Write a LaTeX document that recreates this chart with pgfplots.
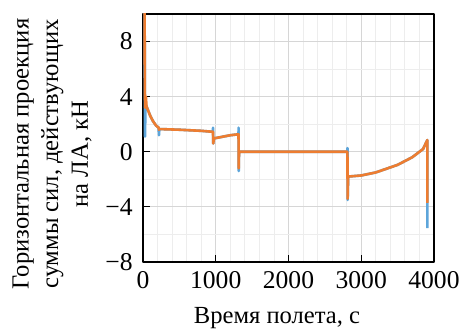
\documentclass[border=0pt]{standalone}
\usepackage{fontspec}
\setmainfont{Liberation Serif}
\usepackage{pgfplots}
\pgfplotsset{compat=1.18}
\definecolor{lineorange}{HTML}{ED7D31}
\definecolor{lineblue}{HTML}{5DA5DA}
\definecolor{majgrid}{HTML}{D6D6D6}
\definecolor{mingrid}{HTML}{EDEDED}
\newcommand{\tl}[1]{\mbox{\fontsize{12.8}{14}\selectfont #1}}
\begin{document}
\fontsize{12}{14.5}\selectfont
\begin{tikzpicture}
\path[use as bounding box] (-71.5pt,-34.5pt) rectangle (158.5pt,131pt);
\begin{axis}[
  scale only axis,
  width=145.5pt, height=124pt,
  xmin=0, xmax=4000, ymin=-8, ymax=10,
  xtick={0,1000,2000,3000,4000},
  xticklabels={\tl{0},\tl{1000},\tl{2000},\tl{3000},\tl{4000}},
  ytick={-8,-4,0,4,8},
  yticklabels={\tl{−8},\tl{−4},\tl{0},\tl{4},\tl{8}},
  minor x tick num=4,
  minor y tick num=1,
  grid=both,
  major grid style={majgrid, line width=0.5pt},
  minor grid style={mingrid, line width=0.4pt},
  tick align=inside,
  xtick pos=bottom, ytick pos=left,
  major tick length=3.5pt,
  minor tick length=0pt,
  tick style={black, line width=0.6pt},
  axis line style={black, line width=0.6pt},
  xticklabel style={yshift=-0.5pt},
  yticklabel style={xshift=-1pt},
  line join=round,
]
% spikes of the raw signal
\addplot[lineblue, line width=1.3pt] coordinates {
  (22,10.5) (27,1.1) (35,3.5) (70,3.0) (100,2.6) (140,2.2) (180,1.9)
  (215,1.75) (219,1.2) (225,1.65) (500,1.6) (800,1.52) (962,1.45)
  (963,1.75) (965,0.6) (975,0.97) (1200,1.2) (1313,1.27) (1314,1.75)
  (1316,-1.4) (1320,0) (2810,0) (2811,0.27) (2813,-3.5) (2820,-1.8)
  (3000,-1.72) (3200,-1.5) (3500,-0.95) (3700,-0.4) (3850,0.2)
  (3908,0.85) (3910,-5.55)
};
% smoothed horizontal force
\addplot[lineorange, line width=1.3pt] coordinates {
  (22,10.5) (26,4.4) (30,3.2) (40,4.0) (48,3.3) (70,3.0) (100,2.6)
  (140,2.2) (180,1.9) (215,1.75) (219,1.6) (225,1.65) (500,1.6)
  (800,1.52) (962,1.45) (965,0.6) (975,0.97) (1200,1.2) (1313,1.27)
  (1316,-1.2) (1320,0) (2810,0) (2813,-3.4) (2820,-1.8) (3000,-1.72)
  (3200,-1.5) (3500,-0.95) (3700,-0.4) (3850,0.2) (3908,0.85) (3910,-3.7)
};
\end{axis}
\node[rotate=90, align=center, inner sep=0pt, font=\fontsize{12.3}{14.8}\selectfont]
  at (-45.5pt,54pt) {Горизонтальная проекция\\суммы сил, действующих\\на ЛА, кН};
\node[anchor=base, inner sep=0pt, font=\fontsize{12.3}{14.5}\selectfont]
  at (67pt,-31pt) {Время полета, с};
\end{tikzpicture}
\end{document}
